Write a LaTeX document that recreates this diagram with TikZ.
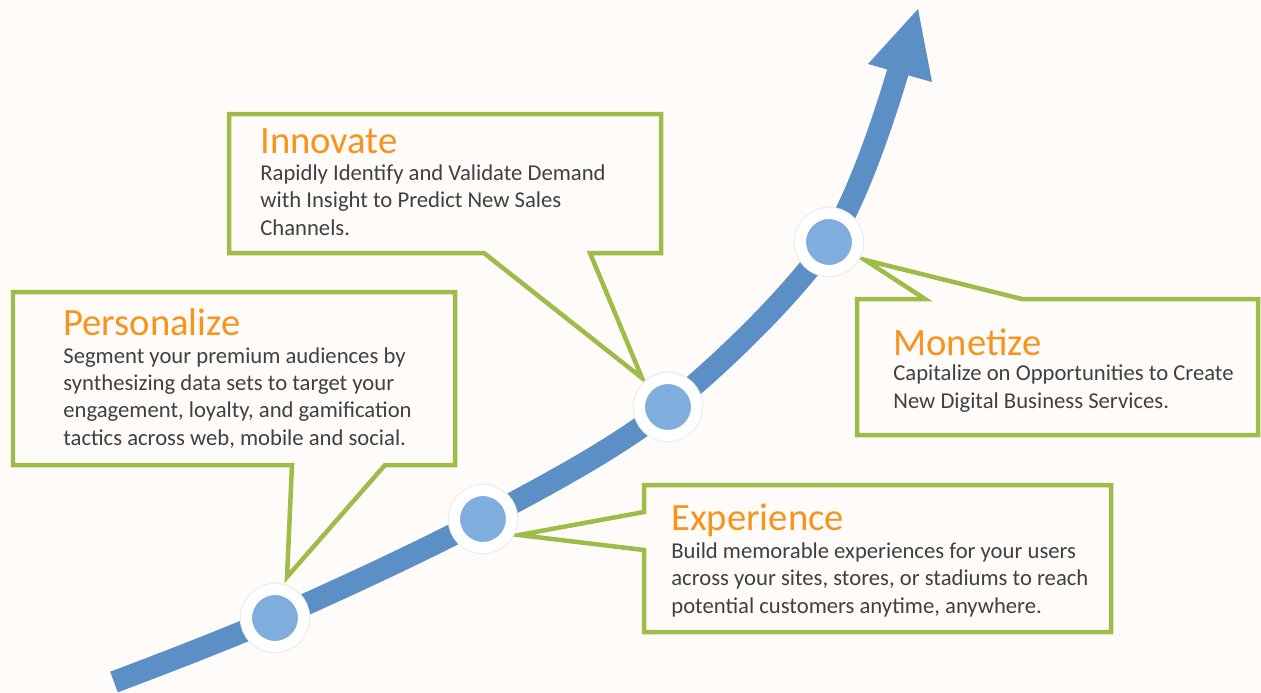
\documentclass[tikz,border=0pt]{standalone}
\usepackage{fontspec}
\setmainfont{Carlito}
\usetikzlibrary{positioning}
\definecolor{bgcream}{RGB}{254,251,248}
\definecolor{trackblue}{RGB}{91,143,197}
\definecolor{dotblue}{RGB}{127,173,221}
\definecolor{boxgreen}{RGB}{158,188,74}
\definecolor{headorange}{RGB}{247,148,30}
\definecolor{bodygray}{RGB}{64,64,64}
\begin{document}
\begin{tikzpicture}[x=0.02cm, y=-0.02cm,
			callout/.style={draw=boxgreen, line width=0.09cm, fill=bgcream, line join=miter},
			heading/.style={anchor=base west, inner sep=0pt, text=headorange, font=\fontsize{22}{26}\selectfont},
			blurb/.style={anchor=base west, inner sep=0pt, text=bodygray, align=left, font=\fontsize{12.9}{15.4}\selectfont},
			milestone/.style={circle, fill=dotblue, draw=white, line width=0.22cm, minimum size=1.14cm, inner sep=0pt},
			halo/.style={circle, draw=black!7, line width=0.27cm, minimum size=1.14cm, inner sep=0pt},
			track/.style={draw=trackblue, line width=0.44cm}]
			\useasboundingbox (0,0) rectangle (1261,693);
			\fill[bgcream] (0,0) rectangle (1261,693);
			
			% callout boxes
			\draw[callout] (13,292) -- (455,292) -- (455,465) -- (385,465) -- (287,577) -- (292,465) -- (13,465) -- cycle;
			\draw[callout] (229,114) -- (661,114) -- (661,253) -- (590,253) -- (642,378) -- (484,253) -- (229,253) -- cycle;
			\draw[callout] (857,299) -- (925,299) -- (865,260) -- (1022,299) -- (1258,299) -- (1258,435) -- (857,435) -- cycle;
			\draw[callout] (644,485) -- (1111,485) -- (1111,632) -- (644,632) -- (644,550) -- (519,535) -- (644,512) -- cycle;
			
			% titles sit on their baseline, texts on the baseline of their last line
			\node[heading](pers) at (63,335) {Personalize};
			\node[blurb](perstext) at (63,445) {Segment your premium audiences by \\ synthesizing data sets to target your \\ engagement, loyalty, and gamification \\ tactics across web, mobile and social.};
			
			\node[heading](innov) at (260,153) {Innovate};
			\node[blurb](innovtext) at (260,235) {Rapidly Identify and Validate Demand \\ with Insight to Predict New Sales \\ Channels.};
			
			\node[heading](monet) at (893,355) {Monetize};
			\node[blurb](monettext) at (893,408) {Capitalize on Opportunities to Create \\ New Digital Business Services.};
			
			\node[heading](exper) at (671,530) {Experience};
			\node[blurb](expertext) at (671,613) {Build memorable experiences for your users \\ across your sites, stores, or stadiums to reach \\ potential customers anytime, anywhere.};
			
			% growth track
			\coordinate (start) at (114,682);
			\coordinate (c1) at (275,618);
			\coordinate (c2) at (483,519);
			\coordinate (c3) at (668,407);
			\coordinate (c4) at (829,242);
			\coordinate (shaftend) at (899,68);
			\draw[track] plot[smooth, tension=0.55] coordinates {(start) (c1) (c2) (c3) (c4) (shaftend)};
			\fill[trackblue] (868,64) -- (918,9) -- (932,82) -- cycle;
			
			\foreach \c in {c1, c2, c3, c4} {
				\node[halo] at (\c) {};
				\node[milestone](m-\c) at (\c) {};
			}
			\end{tikzpicture}
\end{document}
